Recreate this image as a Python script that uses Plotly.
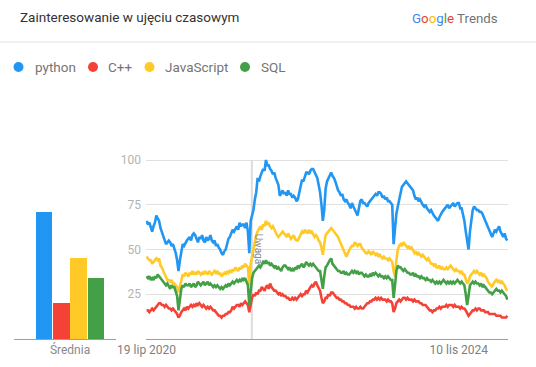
import plotly.graph_objects as go
import pandas as pd

W, H = 536, 367

# ---------------- data ----------------
series_names = ["python", "C++", "JavaScript", "SQL"]
series_colors = ["#2196F3", "#F44336", "#FFCA28", "#43A047"]
averages = [71, 20, 45, 34]
average_label = "Średnia"
start_date = "2020-07-19"
x_tick_dates = ["2020-07-19", "2024-11-10"]
x_tick_labels = ["19 lip 2020", "10 lis 2024"]
y_ticks = [25, 50, 75, 100]
note_date = "2022-01-01"
note_text = "Uwaga"
title_text = "Zainteresowanie w ujęciu czasowym"

python = [
    66, 64, 65, 62, 60, 63, 65, 69, 67, 66,
    62, 60, 57, 55, 53, 54, 55, 54, 52, 53,
    51, 48, 44, 38, 44, 50, 53, 52, 54, 55,
    56, 57, 55, 58, 59, 58, 56, 54, 57, 56,
    58, 55, 54, 57, 55, 56, 58, 55, 54, 55,
    52, 53, 51, 50, 48, 47, 49, 50, 53, 56,
    57, 59, 61, 60, 62, 63, 61, 65, 63, 64,
    64, 62, 65, 60, 48, 66, 69, 72, 78, 82,
    90, 88, 91, 93, 95, 94, 100, 97, 97, 95,
    94, 92, 93, 90, 88, 86, 80, 82, 83, 81,
    82, 80, 83, 81, 81, 79, 80, 79, 77, 78,
    82, 86, 89, 88, 91, 93, 93, 92, 94, 95,
    95, 93, 92, 90, 86, 82, 75, 66, 72, 84,
    88, 90, 92, 93, 91, 90, 88, 85, 83, 82,
    80, 81, 78, 77, 78, 76, 75, 73, 76, 74,
    72, 70, 69, 73, 77, 78, 76, 76, 75, 74,
    76, 77, 78, 79, 80, 81, 80, 82, 82, 81,
    79, 80, 78, 79, 77, 77, 76, 75, 53, 62,
    70, 74, 78, 82, 85, 86, 87, 88, 87, 86,
    85, 84, 83, 80, 78, 79, 77, 78, 76, 75,
    74, 75, 73, 72, 71, 72, 70, 69, 68, 67,
    66, 68, 70, 71, 72, 73, 74, 75, 73, 74,
    75, 76, 74, 75, 76, 76, 73, 73, 70, 66,
    60, 55, 50, 60, 68, 72, 74, 73, 72, 72,
    71, 71, 70, 68, 66, 65, 63, 60, 58, 57,
    59, 61, 60, 62, 63, 60, 58, 57, 59, 56, 55,
]

cpp = [
    16, 16, 15, 16, 17, 16, 17, 18, 19, 20,
    20, 19, 19, 18, 19, 18, 17, 17, 16, 17,
    16, 15, 14, 12, 13, 15, 16, 17, 16, 18,
    17, 18, 19, 18, 19, 18, 20, 19, 20, 19,
    18, 19, 18, 17, 18, 17, 18, 17, 16, 16,
    15, 14, 13, 13, 12, 13, 13, 14, 14, 15,
    15, 16, 18, 17, 18, 19, 19, 18, 20, 19,
    20, 21, 20, 19, 15, 20, 23, 25, 24, 26,
    25, 27, 27, 29, 28, 27, 29, 30, 28, 31,
    29, 28, 27, 27, 26, 25, 26, 24, 25, 24,
    24, 23, 23, 22, 22, 23, 22, 23, 22, 23,
    24, 25, 24, 25, 25, 27, 26, 28, 29, 30,
    29, 31, 32, 30, 28, 27, 23, 20, 21, 23,
    23, 25, 24, 26, 26, 25, 24, 23, 23, 22,
    22, 21, 21, 20, 20, 19, 19, 18, 18, 18,
    17, 18, 17, 17, 18, 17, 17, 18, 19, 20,
    20, 21, 21, 22, 22, 23, 22, 23, 22, 23,
    22, 22, 22, 21, 22, 21, 21, 20, 15, 17,
    20, 21, 22, 21, 22, 23, 23, 22, 23, 22,
    22, 22, 21, 22, 21, 21, 21, 20, 20, 19,
    19, 19, 18, 17, 16, 16, 15, 16, 16, 17,
    17, 18, 17, 18, 18, 18, 19, 18, 19, 19,
    19, 18, 19, 18, 18, 18, 17, 18, 17, 17,
    16, 14, 13, 14, 15, 16, 16, 17, 16, 17,
    17, 16, 16, 16, 15, 15, 15, 14, 14, 14,
    14, 14, 13, 13, 13, 13, 12, 12, 12, 12, 13,
]

javascript = [
    46, 45, 44, 44, 42, 43, 44, 45, 44, 45,
    41, 40, 38, 36, 34, 33, 33, 32, 33, 31,
    31, 30, 29, 26, 30, 34, 36, 35, 37, 36,
    35, 37, 36, 38, 36, 37, 36, 38, 37, 36,
    37, 36, 38, 37, 36, 38, 37, 36, 37, 38,
    37, 38, 36, 37, 35, 36, 37, 36, 38, 37,
    38, 37, 39, 38, 40, 39, 38, 40, 39, 41,
    40, 42, 41, 40, 30, 42, 46, 50, 55, 58,
    60, 62, 63, 61, 64, 63, 66, 64, 65, 63,
    62, 63, 61, 60, 58, 57, 58, 59, 60, 59,
    58, 57, 59, 57, 56, 57, 58, 56, 55, 55,
    57, 58, 60, 59, 61, 60, 59, 61, 59, 60,
    58, 57, 58, 57, 55, 54, 51, 47, 53, 58,
    59, 60, 61, 62, 61, 60, 59, 58, 57, 55,
    53, 52, 50, 48, 46, 48, 50, 51, 52, 52,
    54, 53, 52, 53, 53, 51, 50, 49, 48, 48,
    49, 48, 47, 49, 48, 47, 48, 46, 47, 46,
    45, 46, 45, 45, 44, 45, 44, 43, 38, 35,
    44, 50, 52, 53, 52, 54, 53, 52, 51, 52,
    50, 51, 49, 48, 49, 47, 48, 47, 46, 47,
    46, 45, 44, 45, 43, 42, 42, 41, 42, 40,
    40, 41, 39, 40, 39, 39, 40, 39, 40, 41,
    40, 39, 38, 39, 38, 38, 37, 38, 36, 36,
    34, 31, 32, 35, 36, 37, 38, 37, 38, 37,
    36, 37, 35, 36, 35, 34, 32, 31, 30, 29,
    31, 32, 33, 32, 33, 31, 32, 31, 30, 28, 27,
]

sql = [
    35, 34, 35, 33, 34, 33, 35, 34, 36, 35,
    34, 33, 32, 31, 30, 31, 29, 28, 30, 29,
    29, 27, 24, 16, 22, 28, 30, 29, 31, 30,
    30, 31, 29, 30, 31, 29, 30, 32, 31, 30,
    31, 32, 30, 31, 32, 30, 31, 30, 29, 30,
    29, 30, 29, 28, 29, 28, 29, 30, 29, 31,
    30, 31, 32, 31, 32, 33, 32, 33, 32, 34,
    33, 34, 32, 30, 19, 28, 34, 37, 38, 39,
    40, 41, 40, 42, 43, 42, 44, 42, 43, 41,
    42, 41, 40, 41, 39, 40, 39, 38, 40, 41,
    41, 40, 39, 40, 38, 39, 38, 40, 39, 41,
    40, 41, 42, 40, 41, 43, 42, 41, 42, 41,
    42, 41, 40, 39, 38, 38, 33, 28, 35, 40,
    41, 43, 44, 45, 42, 41, 40, 39, 38, 38,
    37, 37, 38, 36, 37, 36, 36, 37, 38, 37,
    38, 37, 38, 36, 37, 37, 36, 35, 36, 35,
    35, 36, 35, 37, 36, 37, 36, 35, 36, 35,
    35, 34, 35, 34, 35, 34, 33, 33, 23, 30,
    38, 41, 40, 40, 39, 38, 39, 38, 37, 37,
    36, 36, 37, 35, 36, 35, 35, 34, 35, 34,
    34, 33, 34, 33, 33, 32, 33, 32, 31, 32,
    31, 32, 31, 32, 33, 32, 31, 32, 31, 32,
    31, 32, 31, 32, 33, 32, 31, 32, 31, 30,
    25, 19, 24, 30, 31, 32, 31, 32, 31, 31,
    30, 31, 29, 30, 29, 28, 27, 26, 26, 25,
    26, 27, 28, 27, 27, 26, 27, 26, 25, 24, 22,
]

series_values = [python, cpp, javascript, sql]
n = len(python)
for s in series_values:
    if len(s) != n:
        raise ValueError("series length mismatch")
dates = pd.date_range(start=start_date, periods=n, freq="7D")

# ---------------- geometry helpers ----------------
def px(xp):
    return xp / W

def py(yp):
    return 1 - yp / H

Y_MAX = 101.5
y_dom = [py(339), py(339 - Y_MAX * 1.79)]

fig = go.Figure()

# bar chart of averages
fig.add_trace(go.Bar(
    x=[0, 1, 2, 3], y=averages,
    marker=dict(color=series_colors, line=dict(width=0)),
    width=0.95, xaxis="x", yaxis="y", showlegend=False,
    hoverinfo="skip",
))

# line traces
for name, color, vals in zip(series_names, series_colors, series_values):
    fig.add_trace(go.Scatter(
        x=dates, y=vals, mode="lines", name=name,
        line=dict(color=color, width=2.6),
        xaxis="x2", yaxis="y2", showlegend=False,
    ))

font_family = "Roboto, 'Open Sans', Arial, sans-serif"

annotations = [
    dict(text=title_text, x=px(18), y=py(17), xref="paper", yref="paper",
         xanchor="left", yanchor="middle", showarrow=False,
         font=dict(size=13.5, color="#333333")),
    dict(text=('<span style="color:#4285F4">G</span>'
               '<span style="color:#EA4335">o</span>'
               '<span style="color:#FBBC05">o</span>'
               '<span style="color:#4285F4">g</span>'
               '<span style="color:#34A853">l</span>'
               '<span style="color:#EA4335">e</span>'
               ' <span style="color:#737373">Trends</span>'),
         x=px(500), y=py(18), xref="paper", yref="paper",
         xanchor="right", yanchor="middle", showarrow=False,
         font=dict(size=13.3, color="#737373")),
    dict(text=note_text, x=note_date, y=50, xref="x2", yref="y2",
         xshift=7, textangle=90, showarrow=False,
         font=dict(size=10, color="#8a8a8a")),
]

legend_dot_x = [18.5, 93, 149.5, 245]
legend_text_x = [33, 106, 163, 259]
legend_y = 67
shapes = [
    dict(type="line", xref="paper", yref="paper", x0=0, x1=1,
         y0=py(42), y1=py(42), line=dict(color="#e0e0e0", width=1)),
    dict(type="line", xref="x2", yref="y2", x0=note_date, x1=note_date,
         y0=0, y1=100, line=dict(color="#dcdcdc", width=2), layer="between"),
]
for name, color, dx, tx in zip(series_names, series_colors, legend_dot_x, legend_text_x):
    r = 5
    shapes.append(dict(type="circle", xref="paper", yref="paper",
                       x0=px(dx - r), x1=px(dx + r), y0=py(legend_y + r), y1=py(legend_y - r),
                       fillcolor=color, line=dict(width=0)))
    annotations.append(dict(text=name, x=px(tx), y=py(legend_y), xref="paper", yref="paper",
                            xanchor="left", yanchor="middle", showarrow=False,
                            font=dict(size=13.5, color="#757575")))

fig.update_layout(
    template="none",
    width=W, height=H, autosize=False,
    margin=dict(l=0, r=0, t=0, b=0, pad=0, autoexpand=False),
    paper_bgcolor="white", plot_bgcolor="white",
    font=dict(family=font_family),
    showlegend=False,
    bargap=0,
    xaxis=dict(domain=[px(14), px(116)], range=[-1.73, 4.15],
               tickvals=[1.5], ticktext=[average_label],
               showgrid=False, zeroline=False, showline=True,
               linecolor="#9e9e9e", linewidth=1, ticks="",
               tickfont=dict(size=12, color="#8a8a8a"), anchor="y",
               fixedrange=True, automargin=False),
    yaxis=dict(domain=y_dom, range=[0, Y_MAX], visible=False, anchor="x",
               fixedrange=True, automargin=False),
    xaxis2=dict(domain=[px(146), px(508)], type="date",
                range=["2020-07-16", "2025-07-16"],
                tickvals=x_tick_dates, ticktext=x_tick_labels,
                showgrid=False, zeroline=False, showline=True,
                linecolor="#9e9e9e", linewidth=1, ticks="",
                tickfont=dict(size=12, color="#808080"), anchor="y2",
                automargin=False),
    yaxis2=dict(domain=y_dom, range=[0, Y_MAX], tickvals=y_ticks,
                showgrid=True, gridcolor="#e0e0e0", gridwidth=1,
                zeroline=False, showline=False, ticks="",
                tickfont=dict(size=12, color="#b3b3b3"), anchor="x2",
                ticklabelstandoff=4, automargin=False),
    annotations=annotations,
    shapes=shapes,
)

fig.write_html("out.html", config={"displayModeBar": False},
               post_script="document.body.style.margin='0';")
